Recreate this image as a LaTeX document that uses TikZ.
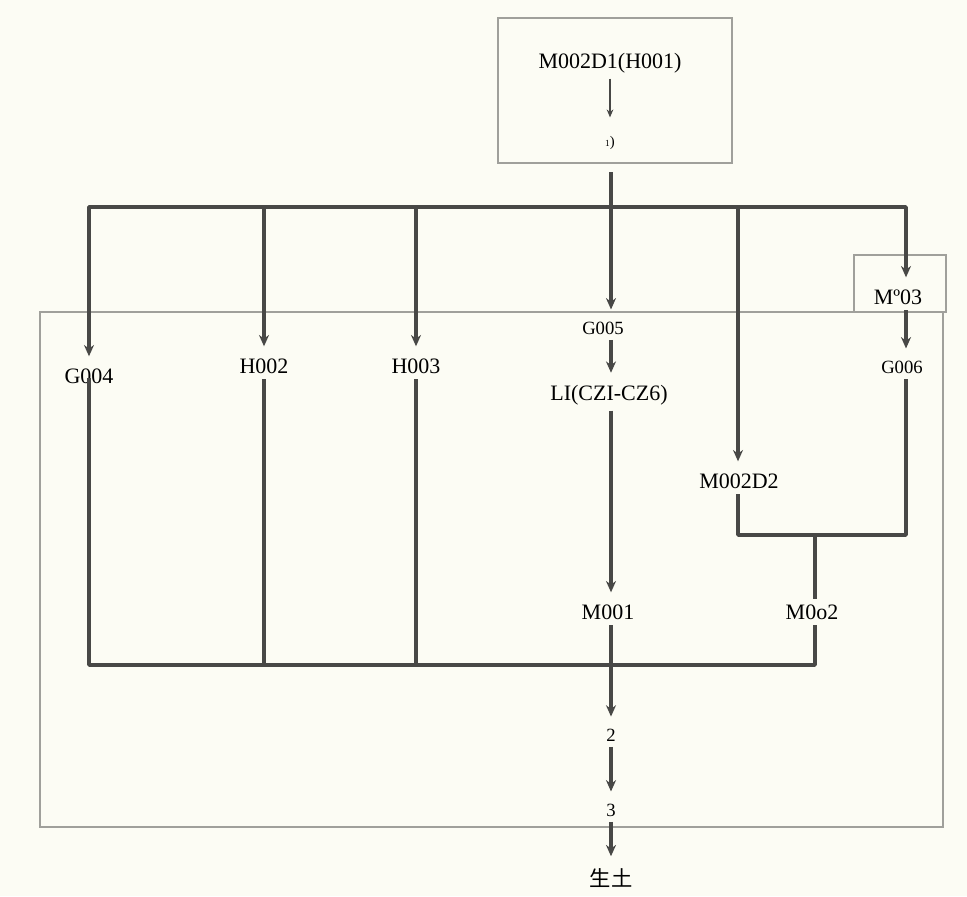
\documentclass[tikz,border=0pt]{standalone}
\usepackage{fontspec}
\setmainfont{Liberation Serif}
\newfontfamily\cjk{Noto Sans CJK SC}
\usetikzlibrary{arrows.meta}
\definecolor{paper}{RGB}{252,252,244}
\definecolor{wire}{RGB}{72,72,70}
\definecolor{frame}{RGB}{160,160,155}

\begin{document}
\begin{tikzpicture}[x=0.75pt, y=-0.75pt,
  lbl/.style={inner sep=4pt, font=\fontsize{16.5}{18}\selectfont},
  sml/.style={inner sep=4pt, font=\fontsize{14}{15}\selectfont},
  wireline/.style={draw=wire, line width=2.6pt, line join=round},
  flow/.style={wireline, -{Stealth[length=8.5pt,width=7.5pt]}, shorten >=5pt},
  flowboth/.style={wireline, {Stealth[length=8.5pt,width=7.5pt]}-{Stealth[length=8.5pt,width=7.5pt]},
    shorten >=5pt, shorten <=5pt},
  thinflow/.style={draw=wire, line width=1.3pt, -{Stealth[length=6pt,width=5pt]}, shorten >=10pt},
  box/.style={draw=frame, line width=2pt}]
  % page
  \useasboundingbox (0,0) rectangle (967,896);
  \fill[paper] (0,0) rectangle (967,896);
  % frames
  \draw[box] (498,18) rectangle (732,163);
  \draw[box] (40,312) rectangle (943,827);
  \draw[box] (854,255) rectangle (946,312);
  % labels
  \node[lbl] (src) at (610,63) {M002D1(H001)};
  \node[inner sep=4pt, font=\fontsize{11}{12}\selectfont] (n1) at (610,143) {{\fontsize{7}{8}\selectfont 1})};
  \node[lbl] (g004) at (89,376) {G004};
  \node[lbl] (h002) at (264,366) {H002};
  \node[lbl] (h003) at (416,366) {H003};
  \node[sml] (g005) at (603,328) {G005};
  \node[lbl] (li) at (609,395) {LI(CZI-CZ6)};
  \node[lbl] (m001) at (608,612) {M001};
  \node[lbl] (m002d2) at (739,481) {M002D2};
  \node[lbl] (m0o2) at (812,612) {M0o2};
  \node[lbl] (m003) at (898,297) {Mº03};
  \node[sml] (g006) at (902,367) {G006};
  \node[sml] (two) at (611,735) {2};
  \node[sml] (three) at (611,810) {3};
  \node[lbl, font=\cjk\fontsize{16}{18}\selectfont] (soil) at (611,878) {生土};
  % junctions
  \coordinate (out) at (611,172);
  \coordinate (busL) at (89,207);
  \coordinate (busR) at (906,207);
  \coordinate (busE) at (738,207);
  \coordinate (midR) at (815,535);
  \coordinate (botR) at (815,665);
  % top box
  \draw[thinflow] (src.south) -- (n1.north);
  % upper bus
  \draw[flowboth] (g004.north) |- (busR) -- (m003.north -| busR);
  \draw[flow] (busL -| h002) -- (h002.north);
  \draw[flow] (busL -| h003) -- (h003.north);
  \draw[flow] (busE) -- (m002d2.north -| busE);
  % trunk
  \draw[flow] (out) -- (out |- g005.north);
  \draw[flow] (g005.south -| out) -- (li.north -| out);
  \draw[flow] (li.south -| out) -- (m001.north -| out);
  \draw[flow] (m001.south -| out) -- (two.north);
  \draw[flow] (two.south) -- (three.north);
  \draw[flow] (three.south) -- (soil.north);
  % right branch
  \draw[flow] (m003.south -| busR) -- (g006.north -| busR);
  \draw[wireline] (m002d2.south -| busE) |- (busR |- midR) -- (busR |- g006.south);
  \draw[wireline] (midR) -- (midR |- m0o2.north);
  % lower bus
  \draw[wireline] ([yshift=8pt]g004.south) |- (botR) -- (botR |- m0o2.south);
  \draw[wireline] (h002.south) -- (h002.south |- botR);
  \draw[wireline] (h003.south) -- (h003.south |- botR);
\end{tikzpicture}
\end{document}
